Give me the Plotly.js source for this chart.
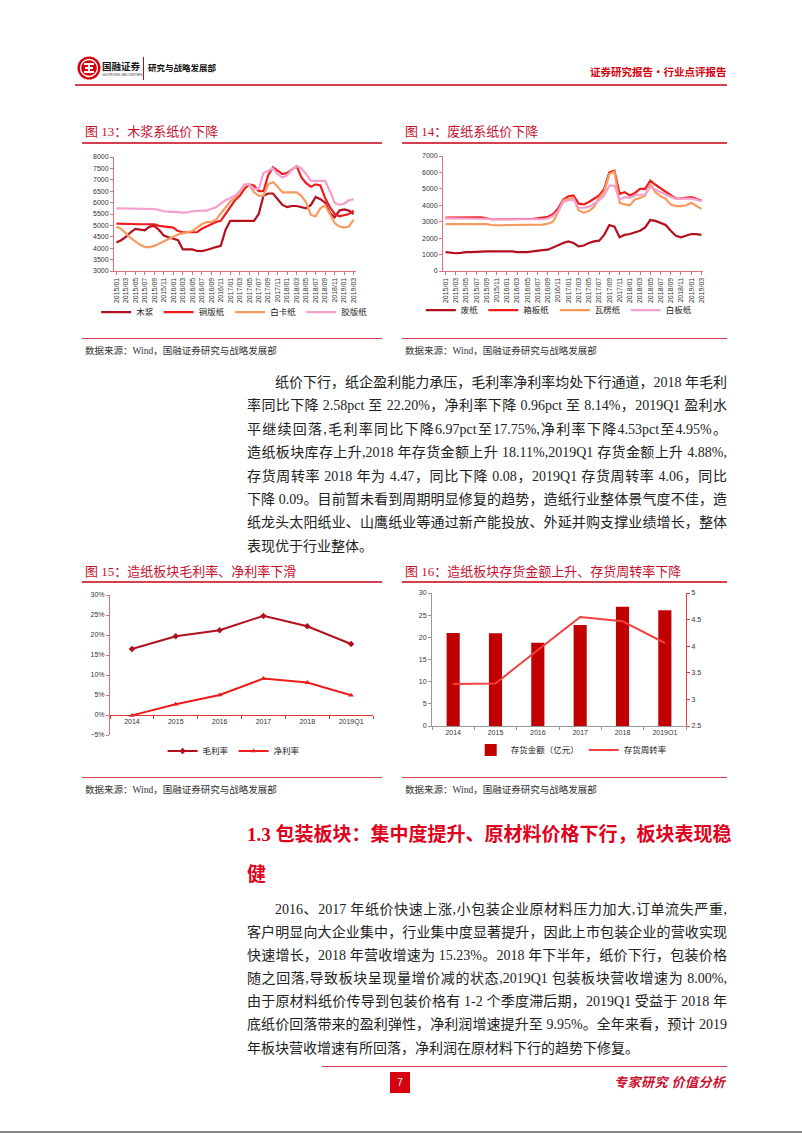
<!DOCTYPE html>
<html lang="zh-CN">
<head>
<meta charset="utf-8">
<script src="https://cdn.plot.ly/plotly-3.0.1.min.js"></script>
<style>
  body { margin: 0; width: 802px; height: 1133px; position: relative; background: #fff; overflow: hidden;
         font-family: "Liberation Serif", "Noto Sans CJK SC", serif; color: #222; }
  .abs { position: absolute; }
  .figtitle { font-size: 13px; color: #c8102e; line-height: 16px; white-space: nowrap; }
  .rule { height: 1.5px; background: #d5404f; }
  .thin { height: 1px; background: #d5404f; }
  .src { font-size: 9.5px; color: #333; line-height: 12px; white-space: nowrap; }
  .para div { width: 480px; line-height: 23.4px; height: 23.4px; font-size: 14px; white-space: nowrap;
              text-align: justify; text-align-last: justify; }
  .para.p2 div { line-height: 23.1px; height: 23.1px; }
  .para div.ind { padding-left: 28px; width: 452px; }
  .para div.last { text-align-last: left; }
  .chart { position: absolute; }
</style>
</head>
<body>

<!-- header -->
<svg class="abs" style="left:77px;top:56px" width="24" height="24" viewBox="0 0 24 24">
  <circle cx="12" cy="12" r="11.5" fill="#d7000f"/>
  <circle cx="12" cy="12" r="8.5" fill="none" stroke="#fff" stroke-width="1.3"/>
  <path d="M7 8h10M8 12h8M7 16h10M12 8v8" stroke="#fff" stroke-width="2"/>
</svg>
<div class="abs" style="left:102px;top:60px;font:bold 9.5px 'Noto Sans CJK SC';line-height:12px;color:#111">国融证券</div>
<div class="abs" style="left:102px;top:73px;font:3.5px 'Liberation Sans';line-height:5px;color:#333">GUORONG SECURITIES</div>
<div class="abs" style="left:143px;top:57px;width:1px;height:23px;background:#d7000f"></div>
<div class="abs" style="left:148px;top:61px;font:bold 8.5px 'Noto Sans CJK SC';line-height:12px;color:#111">研究与战略发展部</div>
<div class="abs" style="left:590px;top:65px;font:bold 10.5px 'Noto Sans CJK SC';line-height:14px;color:#d7000f">证券研究报告·行业点评报告</div>
<div class="abs" style="left:75px;top:84px;width:652px;height:2px;background:#d5404f"></div>

<!-- figure 13 / 14 titles -->
<div class="abs figtitle" style="left:85px;top:124px">图 13：木浆系纸价下降</div>
<div class="abs rule" style="left:82px;top:142px;width:300px"></div>
<div class="abs figtitle" style="left:405px;top:124px">图 14：废纸系纸价下降</div>
<div class="abs rule" style="left:402px;top:142px;width:325px"></div>

<div id="c13" class="chart" style="left:82px;top:144px;width:300px;height:193px"></div>
<div id="c14" class="chart" style="left:402px;top:144px;width:325px;height:193px"></div>

<div class="abs thin" style="left:82px;top:338px;width:300px"></div>
<div class="abs thin" style="left:402px;top:338px;width:325px"></div>
<div class="abs src" style="left:85px;top:345px">数据来源：Wind，国融证券研究与战略发展部</div>
<div class="abs src" style="left:405px;top:345px">数据来源：Wind，国融证券研究与战略发展部</div>

<!-- paragraph 1 -->
<div class="abs para" style="left:247px;top:371px">
  <div class="ind">纸价下行，纸企盈利能力承压，毛利率净利率均处下行通道，2018 年毛利</div>
  <div>率同比下降 2.58pct 至 22.20%，净利率下降 0.96pct 至 8.14%，2019Q1 盈利水</div>
  <div>平继续回落,毛利率同比下降6.97pct至17.75%,净利率下降4.53pct至4.95%。</div>
  <div>造纸板块库存上升,2018 年存货金额上升 18.11%,2019Q1 存货金额上升 4.88%,</div>
  <div>存货周转率 2018 年为 4.47，同比下降 0.08，2019Q1 存货周转率 4.06，同比</div>
  <div>下降 0.09。目前暂未看到周期明显修复的趋势，造纸行业整体景气度不佳，造</div>
  <div>纸龙头太阳纸业、山鹰纸业等通过新产能投放、外延并购支撑业绩增长，整体</div>
  <div class="last">表现优于行业整体。</div>
</div>

<!-- figure 15 / 16 titles -->
<div class="abs figtitle" style="left:85px;top:564px">图 15：造纸板块毛利率、净利率下滑</div>
<div class="abs rule" style="left:82px;top:581px;width:300px"></div>
<div class="abs figtitle" style="left:405px;top:564px">图 16：造纸板块存货金额上升、存货周转率下降</div>
<div class="abs rule" style="left:402px;top:581px;width:325px"></div>

<div id="c15" class="chart" style="left:82px;top:583px;width:300px;height:192px"></div>
<div id="c16" class="chart" style="left:402px;top:583px;width:325px;height:192px"></div>

<div class="abs thin" style="left:82px;top:777px;width:300px"></div>
<div class="abs thin" style="left:402px;top:777px;width:325px"></div>
<div class="abs src" style="left:85px;top:784px">数据来源：Wind，国融证券研究与战略发展部</div>
<div class="abs src" style="left:405px;top:784px">数据来源：Wind，国融证券研究与战略发展部</div>

<!-- section heading -->
<div class="abs" style="left:247px;top:822px;width:480px;font:bold 19px 'Liberation Serif','Noto Sans CJK SC';line-height:26px;color:#e0001b;text-align:justify;text-align-last:justify;white-space:nowrap">1.3 包装板块：集中度提升、原材料价格下行，板块表现稳</div>
<div class="abs" style="left:247px;top:860px;font:bold 19px 'Noto Sans CJK SC';line-height:26px;color:#e0001b">健</div>

<!-- paragraph 2 -->
<div class="abs para p2" style="left:247px;top:898px">
  <div class="ind">2016、2017 年纸价快速上涨,小包装企业原材料压力加大,订单流失严重,</div>
  <div>客户明显向大企业集中，行业集中度显著提升，因此上市包装企业的营收实现</div>
  <div>快速增长，2018 年营收增速为 15.23%。2018 年下半年，纸价下行，包装价格</div>
  <div>随之回落,导致板块呈现量增价减的状态,2019Q1 包装板块营收增速为 8.00%,</div>
  <div>由于原材料纸价传导到包装价格有 1-2 个季度滞后期，2019Q1 受益于 2018 年</div>
  <div>底纸价回落带来的盈利弹性，净利润增速提升至 9.95%。全年来看，预计 2019</div>
  <div class="last">年板块营收增速有所回落，净利润在原材料下行的趋势下修复。</div>
</div>

<!-- footer -->
<div class="abs" style="left:322px;top:1066px;width:405px;height:1px;background:#d5404f"></div>
<div class="abs" style="left:390px;top:1072px;width:20px;height:21px;background:#d7000f;color:#fff;font:10px 'Liberation Sans';line-height:21px;text-align:center">7</div>
<div class="abs" style="left:614px;top:1073px;font:italic bold 13px 'Noto Sans CJK SC';line-height:18px;color:#c8102e;letter-spacing:0.5px">专家研究 价值分析</div>
<div class="abs" style="left:0;top:1131px;width:802px;height:2px;background:#888"></div>

<script>
// monthly categories 2015/01 - 2019/03
const months = ['2015/01','2015/02','2015/03','2015/04','2015/05','2015/06','2015/07','2015/08','2015/09','2015/10','2015/11','2015/12',
  '2016/01','2016/02','2016/03','2016/04','2016/05','2016/06','2016/07','2016/08','2016/09','2016/10','2016/11','2016/12',
  '2017/01','2017/02','2017/03','2017/04','2017/05','2017/06','2017/07','2017/08','2017/09','2017/10','2017/11','2017/12',
  '2018/01','2018/02','2018/03','2018/04','2018/05','2018/06','2018/07','2018/08','2018/09','2018/10','2018/11','2018/12',
  '2019/01','2019/02','2019/03'];
const shownMonths = months.filter((m, i) => i % 2 === 0);

// fig 13: 木浆系 (元/吨)
const pulp = [4250,4350,4500,4700,4850,4800,4780,4950,4980,4800, 4550,4480,4420,4350,3950,3950,3950,3880,3870,3920,
  4000,4050,4100,4800,5200,5200,5200,5200,5200,5200, 5500,6300,6400,6400,6150,5900,5800,5850,5850,5800,
  5750,5900,6250,6150,6000,5550,5350,5650,5700,5650,5500];
const coated = [5080,5070,5050,5050,5050,5050,5050,5050,5050,4980, 4950,4900,4900,4750,4700,4700,4700,4700,4850,4950,
  5050,5150,5200,5500,5800,6100,6300,6600,6800,6750, 6500,6500,7200,7550,7400,7250,7300,7450,7600,7100,
  6850,6700,6800,6750,6200,5800,5500,5400,5450,5500,5650];
const ivory = [4950,4850,4650,4450,4300,4150,4050,4050,4100,4200, 4300,4400,4500,4600,4650,4700,4750,4900,5050,5150,
  5150,5250,5500,5800,6050,6200,6450,6750,6800,6450, 6300,6300,6800,6900,6700,6450,6450,6450,6450,6300,
  6000,5450,5400,5750,5880,5500,5100,4950,4900,4950,5250];
const offset = [5750,5750,5750,5750,5750,5750,5750,5750,5720,5680, 5620,5600,5600,5580,5560,5570,5620,5650,5650,5650,
  5720,5800,5950,6100,6200,6300,6500,6800,6800,6600, 6600,7300,7400,7500,7250,7100,7200,7450,7600,7500,
  7250,6950,6950,6950,6950,6500,6000,5900,5950,6100,6150];

// fig 14: 废纸系 (元/吨)
const waste = [1150,1100,1080,1100,1150,1150,1150,1180,1200,1200, 1200,1200,1200,1200,1150,1150,1150,1200,1250,1270,
  1300,1450,1600,1700,1800,1700,1500,1550,1700,1800, 1850,2200,2800,2700,2050,2200,2250,2350,2450,2650,
  3100,3050,2900,2800,2450,2150,2050,2150,2250,2250,2200];
const boxboard = [3250,3250,3250,3250,3250,3280,3280,3260,3200,3150, 3150,3150,3150,3150,3150,3150,3150,3180,3200,3250,
  3300,3450,3800,4350,4550,4600,4100,4050,4200,4400, 4600,5000,6000,6100,4700,4800,4600,4750,5000,5000,
  5500,5250,5050,4850,4600,4400,4420,4450,4500,4400,4280];
const corrugated = [2850,2850,2850,2850,2850,2850,2850,2850,2850,2800, 2780,2780,2800,2800,2800,2800,2800,2800,2800,2820,
  2880,3000,3600,4300,4400,4450,3700,3550,3650,3900, 4450,4850,5900,6050,4150,4050,4000,4350,4450,4600,
  5300,4800,4550,4400,4050,3950,3950,4000,4150,3950,3780];
const whiteboard = [3200,3200,3200,3200,3200,3200,3200,3200,3180,3150, 3150,3150,3150,3150,3150,3150,3150,3150,3150,3150,
  3200,3350,3650,4200,4300,4350,3850,3850,3900,4100, 4300,4600,5200,5200,4350,4500,4450,4600,4650,4650,
  5150,4950,4800,4650,4500,4380,4400,4420,4400,4350,4250];

// fig 15 / 16: yearly
const years = ['2014','2015','2016','2017','2018','2019Q1'];
const grossMargin = [16.5, 19.7, 21.2, 24.78, 22.20, 17.75];
const netMargin = [-0.1, 2.7, 5.0, 9.10, 8.14, 4.95];
const inventory = [21.0, 20.9, 18.8, 22.8, 26.9, 26.1];
const turnover = [3.29, 3.30, 3.93, 4.55, 4.47, 4.06];

const DARK = '#b3101e', RED = '#ee1c1c', ORANGE = '#f79a5e', PINK = '#f5a0cc';
const AXIS = '#e07080';
const tickFont = {family: 'Liberation Sans, Arial, sans-serif', size: 7, color: '#333'};
const legFont = {family: 'Noto Sans CJK SC, sans-serif', size: 8.5, color: '#222'};
const cfg = {displayModeBar: false, staticPlot: true};

// two half-legends per monthly chart so the four entries stay on one row
function lineTrace(y, name, color, legend) {
  return {x: months, y: y, name: name, type: 'scatter', mode: 'lines', legend: legend,
          line: {color: color, width: 2.2}};
}

function monthlyLayout(w, h, margin, xRange, yRange, dtick, legY, legX) {
  const leg = {orientation: 'h', y: legY, yanchor: 'middle', font: legFont, itemwidth: 30, bgcolor: 'rgba(0,0,0,0)'};
  return {
    width: w, height: h, margin: margin,
    paper_bgcolor: '#fff', plot_bgcolor: '#fff',
    showlegend: true,
    xaxis: {type: 'category', range: xRange, tickmode: 'array', tickvals: shownMonths, ticktext: shownMonths,
            tickangle: -90, showline: true, linecolor: AXIS, linewidth: 1, ticks: 'outside', ticklen: 3,
            tickcolor: AXIS, showgrid: false, zeroline: false, tickfont: tickFont},
    yaxis: {range: yRange, dtick: dtick, showline: true, linecolor: AXIS, linewidth: 1, ticks: 'outside',
            ticklen: 3, tickcolor: AXIS, showgrid: false, zeroline: false, tickfont: tickFont},
    legend: Object.assign({x: legX, xanchor: 'right'}, leg),
    legend2: Object.assign({x: legX, xanchor: 'left'}, leg)
  };
}

Plotly.newPlot('c13', [
  lineTrace(pulp, '木浆', DARK, 'legend'),
  lineTrace(coated, '铜版纸', RED, 'legend'),
  lineTrace(ivory, '白卡纸', ORANGE, 'legend2'),
  lineTrace(offset, '胶版纸', PINK, 'legend2')
], monthlyLayout(300, 193, {l: 32, r: 10, t: 13, b: 60}, [-0.5, 50.5], [3000, 8000], 500, -0.36, 0.48), cfg);

Plotly.newPlot('c14', [
  lineTrace(waste, '废纸', DARK, 'legend'),
  lineTrace(boxboard, '箱板纸', RED, 'legend'),
  lineTrace(corrugated, '瓦楞纸', ORANGE, 'legend2'),
  lineTrace(whiteboard, '白板纸', PINK, 'legend2')
], monthlyLayout(325, 193, {l: 41, r: 24, t: 12, b: 60}, [-0.5, 50.3], [0, 7000], 1000, -0.34, 0.43), cfg);

// fig 15
const y15 = [-5, 30];
Plotly.newPlot('c15', [
  {x: years, y: grossMargin, name: '毛利率', type: 'scatter', mode: 'lines+markers',
   line: {color: DARK, width: 2}, marker: {symbol: 'diamond', size: 5, color: DARK}},
  {x: years, y: netMargin, name: '净利率', type: 'scatter', mode: 'lines+markers',
   line: {color: RED, width: 2}, marker: {symbol: 'triangle-up', size: 5, color: RED}}
], {
  width: 300, height: 192, margin: {l: 28, r: 9, t: 12, b: 34},
  paper_bgcolor: '#fff', plot_bgcolor: '#fff', showlegend: true,
  xaxis: {type: 'category', range: [-0.5, 5.5], anchor: 'free', position: (0 - y15[0]) / (y15[1] - y15[0]),
          showline: true, linecolor: '#e03030', linewidth: 1, ticks: 'outside', tickson: 'boundaries',
          ticklen: 3, tickcolor: '#e03030', showgrid: false, zeroline: false, tickfont: tickFont},
  yaxis: {range: y15, dtick: 5, ticksuffix: '%', showline: true, linecolor: AXIS, linewidth: 1,
          ticks: 'outside', ticklen: 3, tickcolor: AXIS, showgrid: false, zeroline: false, tickfont: tickFont},
  legend: {orientation: 'h', x: 0.47, xanchor: 'center', y: -0.115, yanchor: 'middle', font: legFont, itemwidth: 30}
}, cfg);

// fig 16
Plotly.newPlot('c16', [
  {x: years, y: inventory, name: '存货金额（亿元）', type: 'bar', marker: {color: '#c00000'}, width: 0.31},
  {x: years, y: turnover, name: '存货周转率', type: 'scatter', mode: 'lines', yaxis: 'y2',
   line: {color: '#f0403f', width: 2}}
], {
  width: 325, height: 192, margin: {l: 30, r: 41, t: 10, b: 42},
  paper_bgcolor: '#fff', plot_bgcolor: '#fff', showlegend: true,
  xaxis: {type: 'category', range: [-0.5, 5.5], showline: true, linecolor: '#999', linewidth: 1,
          ticks: 'outside', tickson: 'boundaries', ticklen: 3, tickcolor: '#999', showgrid: false,
          zeroline: false, tickfont: tickFont},
  yaxis: {range: [0, 30], dtick: 5, showline: true, linecolor: '#999', linewidth: 1, ticks: 'outside',
          ticklen: 3, tickcolor: '#999', showgrid: false, zeroline: false, tickfont: tickFont},
  yaxis2: {range: [2.5, 5], dtick: 0.5, overlaying: 'y', side: 'right', showline: true, linecolor: '#e04040',
           linewidth: 1, ticks: 'outside', ticklen: 3, tickcolor: '#e04040', showgrid: false, zeroline: false,
           tickfont: tickFont},
  legend: {orientation: 'h', x: 0.55, xanchor: 'center', y: -0.18, yanchor: 'middle', font: legFont, itemwidth: 30}
}, cfg);
</script>
</body>
</html>
